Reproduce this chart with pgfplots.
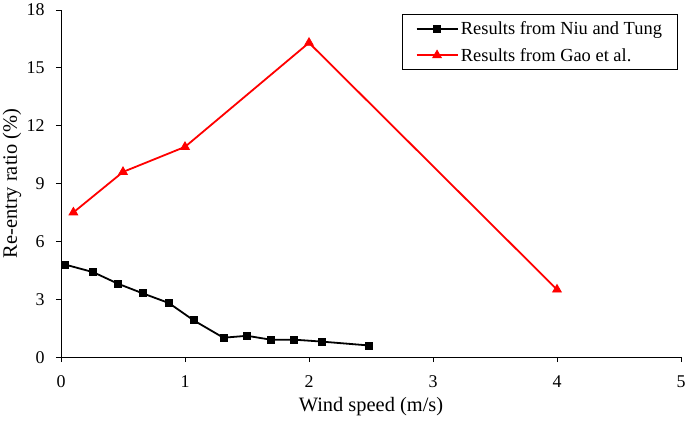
\documentclass[border=0pt]{standalone}
\usepackage{fontspec}
\setmainfont{Liberation Serif}
\usepackage{pgfplots}
\pgfplotsset{compat=1.18}
\begin{document}
\begin{tikzpicture}
\useasboundingbox (-61bp,-64bp) rectangle (624bp,357bp);
\begin{axis}[
  scale only axis,
  width=620bp, height=347bp,
  xmin=0, xmax=5, ymin=0, ymax=18,
  xtick={0,1,2,3,4,5}, ytick={0,3,6,9,12,15,18},
  axis x line*=bottom, axis y line*=left,
  axis line style={line width=1pt, -},
  tick style={black, line width=0.8pt},
  tick align=outside, major tick length=5bp,
  /pgf/number format/assume math mode=true,
  ticklabel style={font=\fontsize{18}{21}\selectfont},
  xticklabel style={anchor=base, yshift=-25bp},
  yticklabel style={anchor=base east, yshift=-6bp, xshift=-8bp},
  xlabel={Wind speed (m/s)},
  ylabel={Re-entry ratio (\%)},
  xlabel style={at={(axis description cs:0.5,-0.156)}, anchor=base, font=\fontsize{20.5}{24}\selectfont},
  ylabel style={at={(axis description cs:-0.071,0.5)}, anchor=base, rotate=0, font=\fontsize{20.5}{24}\selectfont},
  legend style={at={(0.995,0.988)}, anchor=north east, draw=black, line width=0.8pt,
    font=\fontsize{18.5}{21}\selectfont, inner xsep=13bp, inner ysep=7bp, row sep=12bp,
    nodes={inner xsep=2.5bp, inner ysep=0bp}},
  legend cell align=left,
  legend image code/.code={\draw[mark repeat=2,mark phase=2] plot coordinates {(0bp,0bp)(20.5bp,0bp)(41bp,0bp)};},
]
\addplot[black, line width=1.8bp, mark=square*, mark size=3.5bp, mark options={solid, line width=0.8bp}] coordinates {
(0.03,4.8) (0.26,4.4) (0.46,3.8) (0.66,3.3) (0.87,2.8) (1.07,1.9) (1.31,1.0) (1.5,1.1) (1.69,0.9) (1.88,0.9) (2.1,0.8) (2.48,0.6)};
\addlegendentry{Results from Niu and Tung}
\addplot[red, line width=1.8bp, mark=triangle*, mark size=5bp, mark options={solid, line width=0.8bp}] coordinates {
(0.1,7.5) (0.5,9.6) (1.0,10.9) (2.0,16.3) (4.0,3.5)};
\addlegendentry{Results from Gao et al.}
\end{axis}
\end{tikzpicture}
\end{document}
